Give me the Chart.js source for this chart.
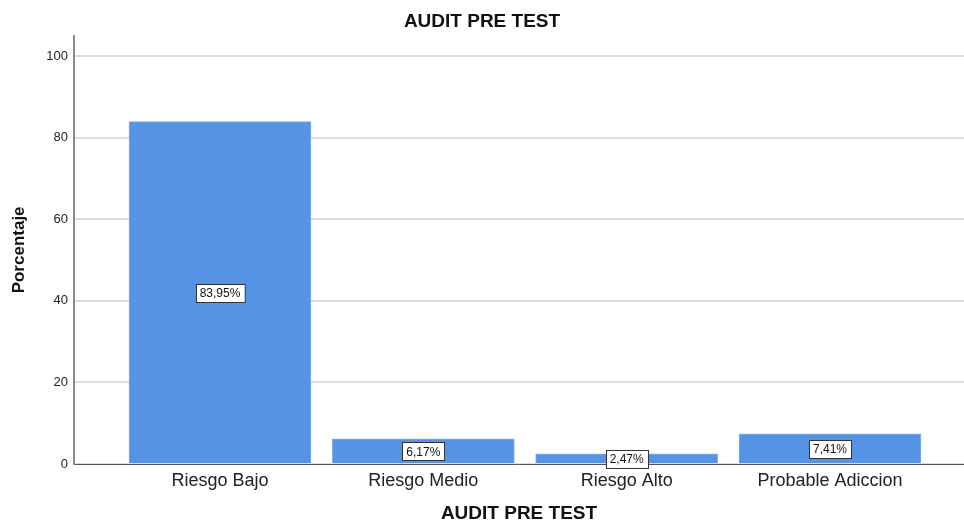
<!DOCTYPE html>
<html>
<head>
<meta charset="utf-8">
<script src="https://cdn.jsdelivr.net/npm/chart.js@4"></script>
<style>
    html, body { margin: 0; padding: 0; background: #fff; }
</style>
</head>
<body>
<canvas id="chart" width="964" height="522"></canvas>
<script>
const categories = ['Riesgo Bajo', 'Riesgo Medio', 'Riesgo Alto', 'Probable Adiccion']
const percentages = [83.95, 6.17, 2.47, 7.41]
const valueLabels = ['83,95%', '6,17%', '2,47%', '7,41%']
const yTicks = [0, 20, 40, 60, 80, 100]

const font = 'Liberation Sans, Arial, sans-serif'

// caja blanca con el porcentaje, a media altura de cada barra
const barLabels = {
    id: 'barLabels',
    afterDatasetsDraw(chart) {
        const ctx = chart.ctx
        const meta = chart.getDatasetMeta(0)
        const yScale = chart.scales.y
        ctx.save()
        ctx.font = `12px ${font}`
        ctx.textAlign = 'center'
        ctx.textBaseline = 'middle'
        meta.data.forEach((bar, i) => {
            const cy = yScale.getPixelForValue(percentages[i] / 2)
            const w = ctx.measureText(valueLabels[i]).width + 8
            const h = 18
            const x0 = Math.round(bar.x - w / 2) + 0.5
            const y0 = Math.round(cy - h / 2) + 0.5
            ctx.fillStyle = '#ffffff'
            ctx.fillRect(x0, y0, w, h)
            ctx.strokeStyle = '#333333'
            ctx.lineWidth = 1
            ctx.strokeRect(x0, y0, w, h)
            ctx.fillStyle = '#111111'
            ctx.fillText(valueLabels[i], bar.x, cy + 1)
        })
        ctx.restore()
    }
}

const ctx = document.getElementById('chart').getContext('2d')
new Chart(ctx, {
    type: 'bar',
    data: {
        datasets: [{
            data: categories.map((c, i) => ({x: i, y: percentages[i]})),
            backgroundColor: '#5594e4',
            borderColor: '#86b0ec',
            borderWidth: 1,
            barThickness: 182
        }]
    },
    options: {
        responsive: false,
        animation: false,
        devicePixelRatio: 1,
        layout: { padding: 0 },
        plugins: {
            legend: { display: false },
            tooltip: { enabled: false },
            title: {
                display: true,
                text: 'AUDIT PRE TEST',
                color: '#111',
                font: { family: font, size: 19, weight: 'bold' },
                padding: { top: 10, bottom: 3 }
            }
        },
        scales: {
            x: {
                type: 'linear',
                offset: false,
                min: -0.718,
                max: 3.659,
                afterBuildTicks: s => { s.ticks = categories.map((c, i) => ({value: i})) },
                afterFit: s => { s.height = 58 },
                grid: { display: false, drawTicks: false },
                border: { display: true, color: '#555', width: 1 },
                ticks: {
                    autoSkip: false,
                    maxRotation: 0,
                    padding: 6,
                    color: '#222',
                    font: { family: font, size: 18 },
                    callback: v => categories[v]
                },
                title: {
                    display: true,
                    text: 'AUDIT PRE TEST',
                    color: '#111',
                    font: { family: font, size: 19, weight: 'bold', lineHeight: 0.85 },
                    padding: { top: 0, bottom: 0 }
                }
            },
            y: {
                min: 0,
                max: 105,
                afterBuildTicks: s => { s.ticks = yTicks.map(v => ({value: v})) },
                afterFit: s => { s.width = 74 },
                grid: { color: '#dcdcdc', lineWidth: 2, drawTicks: false },
                border: { display: true, color: '#8c8c8c', width: 2 },
                ticks: {
                    padding: 6,
                    color: '#222',
                    font: { family: font, size: 13 }
                },
                title: {
                    display: true,
                    text: 'Porcentaje',
                    color: '#111',
                    font: { family: font, size: 17, weight: 'bold' },
                    padding: { top: 9, bottom: 0 }
                }
            }
        }
    },
    plugins: [barLabels]
})
</script>
</body>
</html>
